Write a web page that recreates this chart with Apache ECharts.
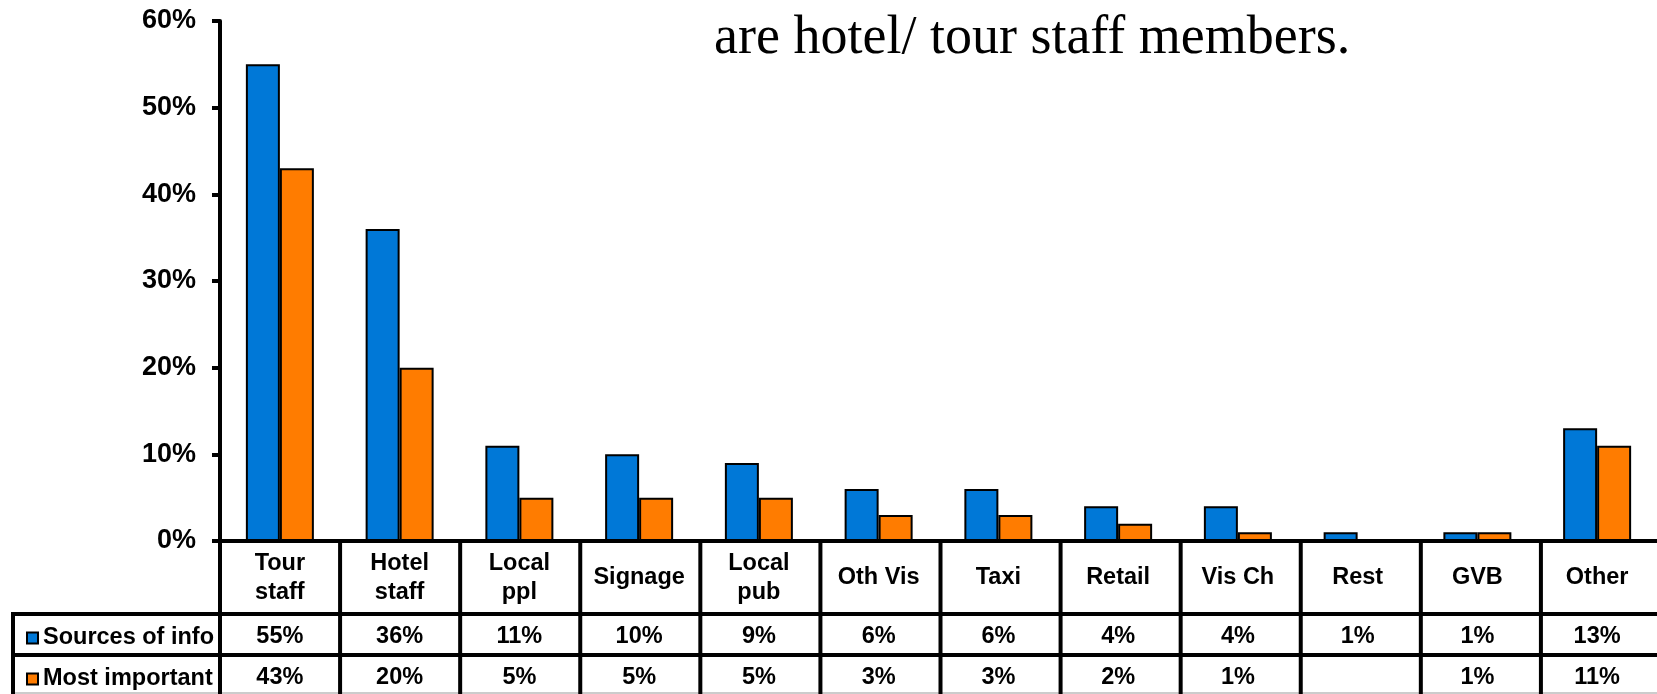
<!DOCTYPE html>
<html>
<head>
<meta charset="utf-8">
<script src="https://cdn.jsdelivr.net/npm/echarts@6/dist/echarts.min.js"></script>
<style>
html,body{margin:0;padding:0;background:#fff;}
#chart{width:1657px;height:694px;}
</style>
</head>
<body>
<div id="chart"></div>
<script>
const categories = ['Tour\nstaff','Hotel\nstaff','Local\nppl','Signage','Local\npub','Oth Vis','Taxi','Retail','Vis Ch','Rest','GVB','Other'];
const seriesNames = ['Sources of info','Most important'];
const sourcesOfInfo = [55,36,11,10,9,6,6,4,4,1,1,13];
const mostImportant = [43,20,5,5,5,3,3,2,1,null,1,11];
const yTicks = {min:0, max:60, interval:10};
const titleText = 'are hotel/ tour staff members.';

const FONT = "'Liberation Sans', Arial, sans-serif";
const BLUE = '#0078D7', ORANGE = '#FF7C00';
const GRID = {left:220, right:-4, top:21, bottom:153};

const chart = echarts.init(document.getElementById('chart'));
const W = chart.getWidth(), H = chart.getHeight();
const axisY = H - GRID.bottom;
const catW = (W - GRID.left - GRID.right) / categories.length;
const row1 = 614, row2 = 655;

function pct(v){ return (v === null || v === undefined) ? '' : v + '%'; }

const graphics = [];
const lineStyle = {stroke:'#000', lineWidth:4};
for (let k = 0; k <= categories.length; k++) {
  const x = GRID.left + k * catW;
  graphics.push({type:'line', shape:{x1:x, y1:axisY, x2:x, y2:H}, style:lineStyle, z:10});
}
graphics.push({type:'line', shape:{x1:13, y1:row1, x2:W, y2:row1}, style:lineStyle, z:10});
graphics.push({type:'line', shape:{x1:13, y1:row2, x2:W, y2:row2}, style:lineStyle, z:10});
graphics.push({type:'line', shape:{x1:13, y1:row1-2, x2:13, y2:H}, style:lineStyle, z:10});
graphics.push({type:'line', shape:{x1:13, y1:H-1, x2:W, y2:H-1}, style:{stroke:'#999', lineWidth:1}, z:9});
graphics.push({type:'text', left:714, top:12, style:{text:titleText, font:"54px 'Liberation Serif', 'Times New Roman', serif", fill:'#000'}, z:20});

const labelRowAxis = (values, margin) => ({
  type:'category', data:categories, position:'bottom',
  axisLine:{show:false}, axisTick:{show:false},
  axisLabel:{interval:0, margin:margin, verticalAlign:'middle', color:'#000',
    fontFamily:FONT, fontWeight:'bold', fontSize:23.5,
    formatter:(v, i) => pct(values[i])}
});

const legendItem = (name, top) => ({
  data:[name], left:21, top:top,
  itemWidth:11, itemHeight:11, icon:'rect',
  textStyle:{fontFamily:FONT, fontWeight:'bold', fontSize:23.5, color:'#000'}
});

chart.setOption({
  animation:false,
  grid:GRID,
  legend:[legendItem(seriesNames[0], 621), legendItem(seriesNames[1], 662)],
  xAxis:[
    {type:'category', data:categories, position:'bottom',
     axisLine:{lineStyle:{color:'#000', width:4}},
     axisTick:{show:false},
     axisLabel:{interval:0, margin:37, verticalAlign:'middle', color:'#000', lineHeight:28.5,
       fontFamily:FONT, fontWeight:'bold', fontSize:23.5}},
    labelRowAxis(sourcesOfInfo, 96),
    labelRowAxis(mostImportant, 137)
  ],
  yAxis:{
    type:'value', min:yTicks.min, max:yTicks.max, interval:yTicks.interval,
    axisLine:{show:true, lineStyle:{color:'#000', width:4}},
    axisTick:{show:true, length:8, lineStyle:{color:'#000', width:4}},
    splitLine:{show:false},
    axisLabel:{margin:24, color:'#000', fontFamily:FONT, fontWeight:'bold', fontSize:27, formatter:'{value}%'}
  },
  series:[
    {name:seriesNames[0], type:'bar', data:sourcesOfInfo, barWidth:34, barGap:'0%',
     itemStyle:{color:BLUE, borderColor:'#000', borderWidth:2}},
    {name:seriesNames[1], type:'bar', data:mostImportant, barWidth:34, barGap:'0%',
     itemStyle:{color:ORANGE, borderColor:'#000', borderWidth:2}}
  ],
  graphic:graphics
});
</script>
</body>
</html>
